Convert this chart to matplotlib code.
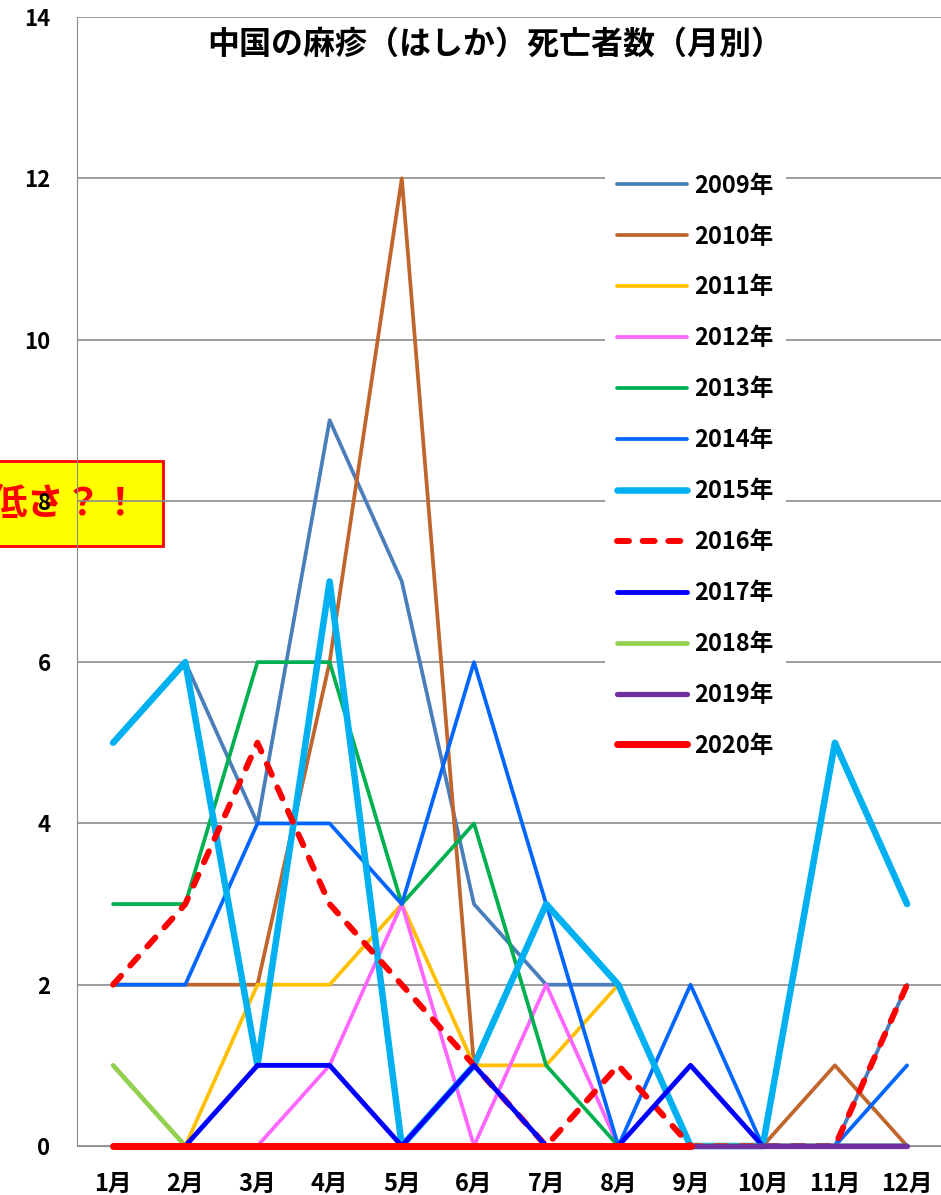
import matplotlib
matplotlib.use('Agg')
import matplotlib.pyplot as plt
from matplotlib.patches import Rectangle

plt.rcParams['font.family'] = ['Noto Sans CJK JP', 'DejaVu Sans']

months = ['1月', '2月', '3月', '4月', '5月', '6月', '7月', '8月', '9月', '10月', '11月', '12月']

d2009 = [5, 6, 4, 9, 7, 3, 2, 2, 0, 0, 0, 2]
d2010 = [2, 2, 2, 6, 12, 1, 0, 0, 0, 0, 1, 0]
d2011 = [0, 0, 2, 2, 3, 1, 1, 2, 0, 0, 0, 0]
d2012 = [0, 0, 0, 1, 3, 0, 2, 0, 0, 0, 0, 0]
d2013 = [3, 3, 6, 6, 3, 4, 1, 0, 0, 0, 0, 0]
d2014 = [2, 2, 4, 4, 3, 6, 3, 0, 2, 0, 0, 1]
d2015 = [5, 6, 1, 7, 0, 1, 3, 2, 0, 0, 5, 3]
d2016 = [2, 3, 5, 3, 2, 1, 0, 1, 0, 0, 0, 2]
d2017 = [0, 0, 1, 1, 0, 1, 0, 0, 1, 0, 0, 0]
d2018 = [1, 0, 0, 0, 0, 0, 0, 0, 0, 0, 0, 0]
d2019 = [0, 0, 0, 0, 0, 0, 0, 0, 0, 0, 0, 0]
d2020 = [0, 0, 0, 0, 0, 0, 0, 0, 0]  # through September

years = ['2009年', '2010年', '2011年', '2012年', '2013年', '2014年',
         '2015年', '2016年', '2017年', '2018年', '2019年', '2020年']
series = [d2009, d2010, d2011, d2012, d2013, d2014,
          d2015, d2016, d2017, d2018, d2019, d2020]
colors = ['#4a7ebb', '#c0652b', '#ffc000', '#ff66ff', '#00b050', '#0066ff',
          '#00b0f0', '#ff0000', '#0000ff', '#92d050', '#7030a0', '#ff0000']
widths = [2.7, 2.7, 2.7, 2.7, 2.7, 2.7, 4.7, 4.3, 3.5, 3.4, 3.8, 5.0]
styles = ['-'] * 7 + ['--'] + ['-'] * 4

fig = plt.figure(figsize=(9.41, 11.95), dpi=100)
ax = fig.add_axes([77 / 941, 49 / 1195, 864 / 941, 1129 / 1195])
ax.set_facecolor('none')

# yellow callout, cut off at the left edge, sits behind the axes
fig.patches.append(Rectangle((-10 / 941, (1195 - 546) / 1195), 173 / 941, 85 / 1195,
                             transform=fig.transFigure, facecolor='#ffff00',
                             edgecolor='#ff0000', linewidth=2, zorder=-2))
fig.text(140 / 941, (1195 - 503) / 1195, '低さ？！', ha='right', va='center',
         fontsize=27, fontweight='bold', color='#ff0000', zorder=-1)

for i in range(len(series)):
    x = list(range(1, len(series[i]) + 1))
    if styles[i] == '--':
        ax.plot(x, series[i], color=colors[i], lw=widths[i], ls=(0, (2.0, 2.3)),
                label=years[i], solid_joinstyle='round', dash_capstyle='round',
                clip_on=False, zorder=3)
    else:
        ax.plot(x, series[i], color=colors[i], lw=widths[i], label=years[i],
                solid_joinstyle='round', solid_capstyle='round', clip_on=False,
                zorder=3)

ax.set_xlim(0.5, 12.47)
ax.set_ylim(0, 14)
ax.set_yticks(range(0, 15, 2))
ax.set_xticks(range(1, 13))
ax.set_xticklabels(months)
ax.yaxis.grid(True, color='#8c8c8c', lw=1.2)
ax.set_axisbelow(True)
for s in ['top', 'right']:
    ax.spines[s].set_visible(False)
ax.spines['left'].set_color('#8c8c8c')
ax.spines['bottom'].set_color('#8c8c8c')
ax.tick_params(length=0)
ax.tick_params(axis='y', pad=19)
ax.tick_params(axis='x', pad=19)
for lab in ax.get_xticklabels() + ax.get_yticklabels():
    lab.set_fontweight('bold')
for lab in ax.get_yticklabels():
    lab.set_fontsize(16)
for lab in ax.get_xticklabels():
    lab.set_fontsize(17)

fig.text(495 / 941, 1 - 45 / 1195, '中国の麻疹（はしか）死亡者数（月別）', ha='center', va='center',
         fontsize=23, fontweight='bold')

leg = ax.legend(loc='upper left', bbox_to_anchor=(593 / 941, 1 - 150 / 1195),
                bbox_transform=fig.transFigure, frameon=True, handlelength=3.0,
                labelspacing=1.14, handletextpad=0.3, borderpad=0.5,
                prop={'weight': 'bold', 'size': 17})
leg.get_frame().set_facecolor('white')
leg.get_frame().set_edgecolor('none')
leg.get_frame().set_alpha(1)

fig.savefig('out.png', dpi=100)
